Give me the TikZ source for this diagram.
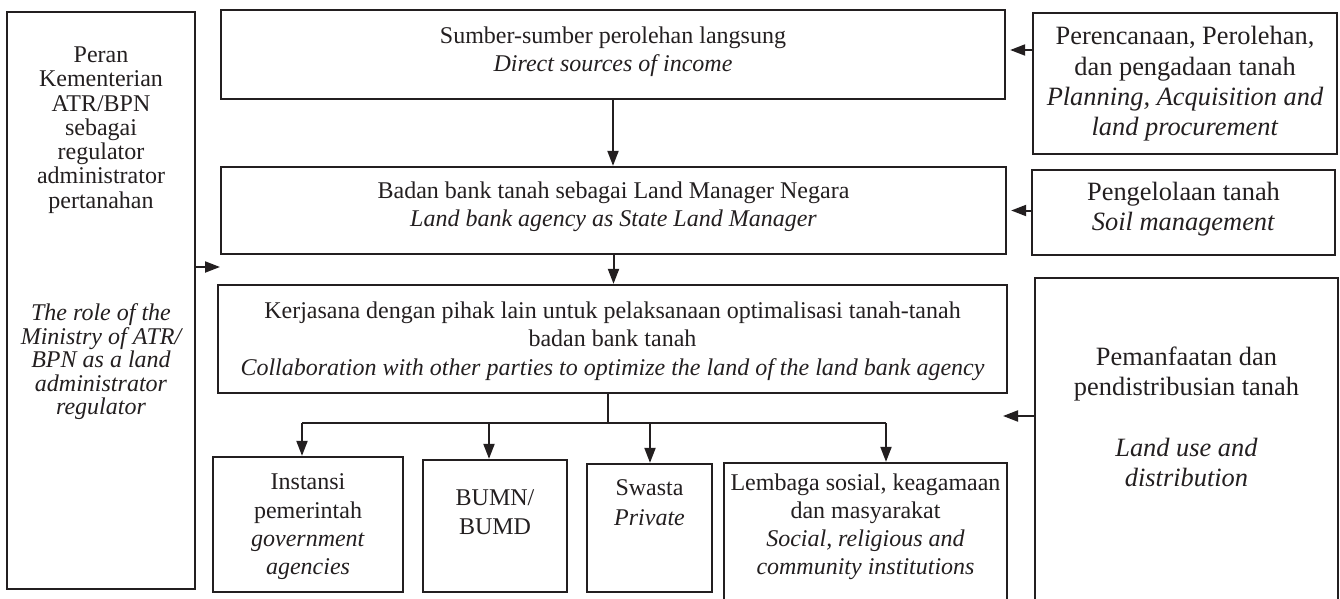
\documentclass[tikz,border=0pt]{standalone}
\usepackage{fontspec}
\setmainfont{Liberation Serif}
\usetikzlibrary{arrows.meta}
\definecolor{ink}{HTML}{231F20}
\begin{document}
\begin{tikzpicture}[x=1pt,y=-1pt,
  box/.style={draw=ink, line width=2.3pt, inner sep=0pt},
  txt/.style={align=center, inner sep=0pt, text=ink, font=\fontsize{24}{28}\selectfont},
  rtxt/.style={txt, font=\fontsize{26.4}{30.4}\selectfont},
  conn/.style={draw=ink, line width=2pt},
  arr/.style={conn, -{Triangle[length=15pt,width=11pt]}}]
\useasboundingbox (0,0) rectangle (1340,599);
\clip (0,0) rectangle (1340,599);
\fill[white] (0,0) rectangle (1340,599);

% boxes
\node[box, minimum width=188pt, minimum height=577pt] (L) at (101,300.5) {};
\node[box, minimum width=784pt, minimum height=89pt] (B1) at (613,54.5) {};
\node[box, minimum width=785pt, minimum height=87pt] (B2) at (613.5,210.5) {};
\node[box, minimum width=789pt, minimum height=108pt] (B3) at (612.5,339) {};
\node[box, minimum width=190pt, minimum height=135pt] (I) at (308,524.5) {};
\node[box, minimum width=144pt, minimum height=132pt] (BU) at (495,526) {};
\node[box, minimum width=125pt, minimum height=128pt] (S) at (649.5,528) {};
\node[box, minimum width=283pt, minimum height=150pt] (LE) at (865.5,538) {};
\node[box, minimum width=304pt, minimum height=141pt] (R1) at (1185,83.5) {};
\node[box, minimum width=303pt, minimum height=85pt] (R2) at (1183.5,212.5) {};
\node[box, minimum width=303pt, minimum height=340pt] (R3) at (1186.5,448) {};

% texts
\node[txt, font=\fontsize{24}{24.3}\selectfont] (Lt1) at (101,130)
  {Peran\\Kementerian\\ATR/BPN\\sebagai\\regulator\\administrator\\pertanahan};
\node[txt, font=\fontsize{24}{23.5}\selectfont\itshape] (Lt2) at (101,362)
  {The role of the\\Ministry of ATR/\\BPN as a land\\administrator\\regulator};
\node[txt] (B1t) at (613,52) {Sumber-sumber perolehan langsung\\\textit{Direct sources of income}};
\node[txt] (B2t) at (613.5,207) {Badan bank tanah sebagai Land Manager Negara\\\textit{Land bank agency as State Land Manager}};
\node[txt, font=\fontsize{24}{28.5}\selectfont] (B3t) at (612.5,341)
  {Kerjasana dengan pihak lain untuk pelaksanaan optimalisasi tanah-tanah\\badan bank tanah\\\textit{Collaboration with other parties to optimize the land of the land bank agency}};
\node[txt, font=\fontsize{24}{28.3}\selectfont] (It) at (308,527)
  {Instansi\\pemerintah\\\textit{government}\\\textit{agencies}};
\node[txt, font=\fontsize{24}{29}\selectfont] (BUt) at (495,512) {BUMN/\\BUMD};
\node[txt, font=\fontsize{24}{30}\selectfont] (St) at (649.5,503) {Swasta\\\textit{Private}};
\node[txt] (LEt) at (865.5,527)
  {Lembaga sosial, keagamaan\\dan masyarakat\\\textit{Social, religious and}\\\textit{community institutions}};
\node[rtxt] (R1t) at (1185,84)
  {Perencanaan, Perolehan,\\dan pengadaan tanah\\\textit{Planning, Acquisition and}\\\textit{land procurement}};
\node[rtxt] (R2t) at (1183.5,209) {Pengelolaan tanah\\\textit{Soil management}};
\node[rtxt] (R3t) at (1186.5,417)
  {Pemanfaatan dan\\pendistribusian tanah\\[30.4pt]\textit{Land use and}\\\textit{distribution}};

% connectors
\draw[arr] (B1.south) -- (B1.south |- B2.north);
\draw[arr] (B2.south) -- (B2.south |- B3.north);
\coordinate (J) at (608,423);
\coordinate (h1) at (302,423);
\coordinate (h2) at (489,423);
\coordinate (h3) at (650,423);
\coordinate (h4) at (886,423);
\draw[conn] (B3.south -| J) -- (J);
\draw[conn] (h1) -- (h4);
\draw[arr] (h1) -- (h1 |- I.north);
\draw[arr] (h2) -- (h2 |- BU.north);
\draw[arr] (h3) -- (h3 |- S.north);
\draw[arr] (h4) -- (h4 |- LE.north);

\coordinate (la) at (220,267);
\draw[arr] (L.east |- la) -- (la);
\coordinate (y1) at (0,50);
\draw[arr, shorten >=4pt] (R1.west |- y1) -- (B1.east |- y1);
\draw[arr, shorten >=4pt] (R2.west |- B2.east) -- (B2.east);
\coordinate (ra) at (1003,416);
\draw[arr] (R3.west |- ra) -- (ra);
\end{tikzpicture}
\end{document}
